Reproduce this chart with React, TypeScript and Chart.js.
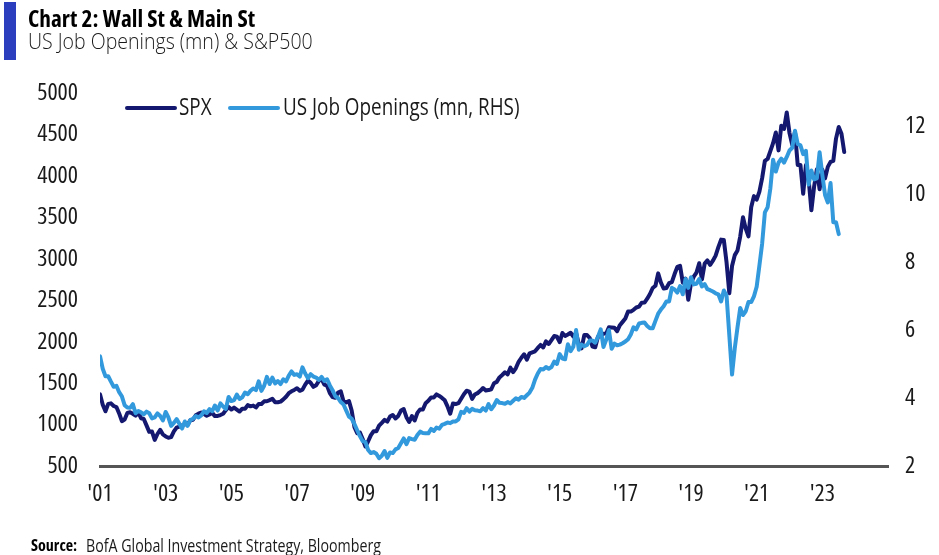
import React, { useEffect, useRef } from "react";
import { Chart, registerables } from "chart.js";

Chart.register(...registerables);

// Monthly data, starting January 2001
const START_YEAR = 2001;

// S&P 500 month-end level (Jan 2001 – Sep 2023)
const SPX: number[] = [
  1366, 1240, 1160, 1249, 1256, 1224, 1211, 1134, 1041, 1060, 1139, 1148,
  1130, 1107, 1147, 1076, 1067, 990, 912, 916, 815, 886, 936, 880,
  856, 841, 848, 917, 964, 975, 990, 1008, 996, 1051, 1058, 1112,
  1131, 1145, 1126, 1107, 1121, 1141, 1102, 1104, 1115, 1130, 1174, 1212,
  1181, 1204, 1181, 1157, 1192, 1191, 1234, 1220, 1229, 1207, 1249, 1248,
  1280, 1281, 1295, 1311, 1270, 1270, 1277, 1304, 1336, 1378, 1401, 1418,
  1438, 1407, 1421, 1482, 1531, 1503, 1455, 1474, 1527, 1549, 1481, 1468,
  1379, 1331, 1323, 1386, 1400, 1280, 1267, 1283, 1166, 969, 896, 903,
  826, 735, 798, 873, 919, 919, 987, 1021, 1057, 1036, 1096, 1115,
  1074, 1104, 1169, 1187, 1089, 1031, 1102, 1049, 1141, 1183, 1181, 1258,
  1286, 1327, 1326, 1364, 1345, 1321, 1292, 1219, 1131, 1253, 1247, 1258,
  1312, 1366, 1408, 1398, 1310, 1362, 1379, 1407, 1441, 1412, 1416, 1426,
  1498, 1515, 1569, 1598, 1631, 1606, 1686, 1633, 1682, 1757, 1806, 1848,
  1783, 1859, 1872, 1884, 1924, 1960, 1931, 2003, 1972, 2018, 2068, 2059,
  1995, 2105, 2068, 2086, 2107, 2063, 2104, 1972, 1920, 2079, 2080, 2044,
  1940, 1932, 2060, 2065, 2097, 2099, 2174, 2171, 2168, 2126, 2199, 2239,
  2279, 2364, 2363, 2384, 2412, 2423, 2470, 2472, 2519, 2575, 2648, 2674,
  2824, 2714, 2641, 2648, 2705, 2718, 2816, 2902, 2914, 2712, 2760, 2507,
  2704, 2784, 2834, 2946, 2752, 2942, 2980, 2926, 2977, 3038, 3141, 3231,
  3226, 2954, 2585, 2912, 3044, 3100, 3271, 3500, 3363, 3270, 3622, 3756,
  3714, 3811, 3973, 4181, 4204, 4298, 4395, 4523, 4308, 4605, 4567, 4766,
  4516, 4374, 4530, 4132, 4132, 3785, 4130, 3955, 3586, 3872, 4080, 3840,
  4077, 3970, 4109, 4169, 4180, 4450, 4589, 4508, 4288,
];

// US job openings, millions (Jan 2001 – Jul 2023)
const JOB_OPENINGS: number[] = [
  5.23, 4.86, 4.64, 4.64, 4.48, 4.33, 4.36, 4.17, 4.05, 3.79, 3.72, 3.71,
  3.82, 3.55, 3.62, 3.58, 3.52, 3.6, 3.55, 3.4, 3.43, 3.55, 3.47, 3.34,
  3.59, 3.43, 3.18, 3.27, 3.38, 3.24, 3.1, 3.31, 3.18, 3.35, 3.39, 3.47,
  3.43, 3.49, 3.61, 3.56, 3.67, 3.61, 3.78, 3.63, 3.84, 3.75, 3.68, 4.03,
  3.91, 3.94, 4.1, 3.97, 4.02, 4.16, 4.11, 4.21, 4.28, 4.23, 4.49, 4.21,
  4.36, 4.62, 4.41, 4.6, 4.43, 4.5, 4.41, 4.55, 4.49, 4.66, 4.78, 4.68,
  4.7, 4.63, 4.9, 4.72, 4.58, 4.7, 4.63, 4.6, 4.53, 4.62, 4.5, 4.55,
  4.37, 4.23, 4.05, 4.0, 3.88, 3.81, 3.63, 3.45, 3.39, 3.23, 3.05, 2.88,
  2.73, 2.7, 2.47, 2.38, 2.41, 2.36, 2.23, 2.3, 2.44, 2.24, 2.4, 2.38,
  2.49, 2.53, 2.67, 2.81, 2.64, 2.82, 2.79, 2.77, 2.91, 3.01, 2.97, 2.96,
  2.96, 3.09, 3.03, 3.13, 3.1, 3.21, 3.24, 3.28, 3.26, 3.31, 3.31, 3.37,
  3.59, 3.56, 3.7, 3.6, 3.68, 3.64, 3.63, 3.61, 3.7, 3.63, 3.82, 3.67,
  3.78, 3.94, 3.86, 3.85, 3.83, 3.88, 3.84, 3.92, 3.99, 3.95, 4.03, 4.0,
  4.08, 4.16, 4.3, 4.54, 4.72, 4.85, 4.84, 4.91, 4.86, 4.91, 5.07, 5.0,
  5.29, 5.16, 5.14, 5.58, 5.38, 5.51, 6.0, 5.42, 5.57, 5.52, 5.56, 5.69,
  5.69, 5.63, 5.8, 6.02, 5.5, 5.71, 6.0, 5.45, 5.6, 5.55, 5.57, 5.61,
  5.66, 5.73, 5.87, 6.08, 6.02, 6.19, 6.21, 6.22, 6.12, 6.05, 6.05, 6.27,
  6.48, 6.6, 6.7, 6.84, 6.84, 7.24, 7.19, 7.1, 7.29, 7.05, 7.5, 7.24,
  7.55, 7.34, 7.36, 7.5, 7.28, 7.35, 7.2, 7.17, 7.13, 7.08, 7.05, 6.84,
  7.16, 7.01, 5.85, 4.69, 5.46, 6.08, 6.65, 6.44, 6.55, 6.82, 6.82, 6.99,
  7.27, 7.9, 8.54, 9.46, 9.61, 10.16, 11.01, 10.66, 10.92, 11.04, 10.92, 11.09,
  11.28, 11.36, 11.86, 11.47, 11.43, 11.17, 11.27, 10.28, 10.69, 10.43, 10.46, 11.23,
  10.56, 9.97, 9.75, 10.32, 9.17, 9.17, 8.82,
];

const X_TICKS: number[] = [2001, 2003, 2005, 2007, 2009, 2011, 2013, 2015, 2017, 2019, 2021, 2023];
const X_LABELS: string[] = ["'01", "'03", "'05", "'07", "'09", "'11", "'13", "'15", "'17", "'19", "'21", "'23"];
const LEFT_TICKS: number[] = [500, 1000, 1500, 2000, 2500, 3000, 3500, 4000, 4500, 5000];
const RIGHT_TICKS: number[] = [2, 4, 6, 8, 10, 12];

const SERIES_NAMES = ["SPX", "US Job Openings (mn, RHS)"];
const NAVY = "#14186e";
const LIGHT = "#3399dd";
const FONT = "'Open Sans', sans-serif";
const TEXT = "#1a1a1a";
const TICK_FONT = { family: FONT, size: 24, weight: "400 condensed" as any };

const toPoints = (vals: number[]) =>
  vals.map((v, i) => ({ x: START_YEAR + i / 12, y: v }));

export default function App() {
  const canvasRef = useRef<HTMLCanvasElement | null>(null);

  useEffect(() => {
    if (!canvasRef.current) return;
    const chart = new Chart(canvasRef.current, {
      type: "line",
      data: {
        datasets: [
          {
            label: SERIES_NAMES[0],
            data: toPoints(SPX),
            yAxisID: "y",
            borderColor: NAVY,
            backgroundColor: NAVY,
            borderWidth: 4,
            pointRadius: 0,
            tension: 0,
            borderJoinStyle: "round",
            borderCapStyle: "round",
            order: 1,
          },
          {
            label: SERIES_NAMES[1],
            data: toPoints(JOB_OPENINGS),
            yAxisID: "y1",
            borderColor: LIGHT,
            backgroundColor: LIGHT,
            borderWidth: 4,
            pointRadius: 0,
            tension: 0,
            borderJoinStyle: "round",
            borderCapStyle: "round",
            order: 0,
          },
        ],
      },
      options: {
        animation: false,
        responsive: false,
        devicePixelRatio: 1,
        layout: { padding: { top: 93, left: 0, right: 0, bottom: 0 } },
        plugins: {
          legend: { display: false },
          tooltip: { enabled: false },
        },
        scales: {
          x: {
            type: "linear",
            min: 2001,
            max: 2025,
            grid: { display: false, drawTicks: false },
            border: { display: true, color: "#555555", width: 3 },
            afterBuildTicks: (scale: any) => {
              scale.ticks = X_TICKS.map((v) => ({ value: v }));
            },
            afterFit: (scale: any) => {
              scale.height = 89;
            },
            ticks: {
              padding: 14,
              autoSkip: false,
              maxRotation: 0,
              color: TEXT,
              font: TICK_FONT,
              callback: (value: any) => {
                const idx = X_TICKS.indexOf(Number(value));
                return idx >= 0 ? X_LABELS[idx] : "";
              },
            },
          },
          y: {
            type: "linear",
            position: "left",
            min: 500,
            max: 5000,
            grid: { display: false, drawTicks: false },
            border: { display: false },
            afterBuildTicks: (scale: any) => {
              scale.ticks = LEFT_TICKS.map((v) => ({ value: v }));
            },
            afterFit: (scale: any) => {
              scale.width = 100;
            },
            ticks: {
              padding: 22,
              color: TEXT,
              font: TICK_FONT,
              callback: (value: any) => String(value),
            },
          },
          y1: {
            type: "linear",
            position: "right",
            min: 2,
            max: 12.97,
            grid: { display: false, drawTicks: false },
            border: { display: false },
            afterBuildTicks: (scale: any) => {
              scale.ticks = RIGHT_TICKS.map((v) => ({ value: v }));
            },
            afterFit: (scale: any) => {
              scale.width = 51;
            },
            ticks: {
              padding: 17,
              color: TEXT,
              font: TICK_FONT,
              callback: (value: any) => String(value),
            },
          },
        },
      },
    });
    return () => chart.destroy();
  }, []);

  const abs = (s: React.CSSProperties, sx = 1): React.CSSProperties => ({
    position: "absolute",
    whiteSpace: "nowrap",
    fontFamily: FONT,
    color: TEXT,
    transform: sx !== 1 ? `scaleX(${sx})` : undefined,
    transformOrigin: "0 0",
    ...s,
  });

  return (
    <div
      style={{
        position: "absolute",
        left: 0,
        top: 0,
        width: 939,
        height: 555,
        background: "#ffffff",
        overflow: "hidden",
      }}
    >
      <canvas
        ref={canvasRef}
        width={939}
        height={555}
        style={{ position: "absolute", left: 0, top: 0, width: 939, height: 555 }}
      />
      <div style={{ position: "absolute", left: 4, top: 2, width: 12, height: 58, background: "#2b3ebe" }} />
      <div style={abs({ left: 28, top: 7, fontSize: 23.4, lineHeight: "23.4px", fontWeight: 700, fontStretch: "75%", color: "#000" })}>
        Chart 2: Wall St &amp; Main St
      </div>
      <div style={abs({ left: 28, top: 30, fontSize: 22.5, lineHeight: "22.5px", fontWeight: 350 }, 0.868)}>
        US Job Openings (mn) &amp; S&amp;P500
      </div>

      {/* Legend */}
      <div style={{ position: "absolute", left: 125, top: 105.5, width: 52, height: 4, background: NAVY, borderRadius: 2 }} />
      <div style={abs({ left: 179, top: 95, fontSize: 23, lineHeight: "23px" }, 0.82)}>{SERIES_NAMES[0]}</div>
      <div style={{ position: "absolute", left: 228, top: 105.5, width: 52, height: 4, background: LIGHT, borderRadius: 2 }} />
      <div style={abs({ left: 283, top: 95, fontSize: 23, lineHeight: "23px" }, 0.82)}>{SERIES_NAMES[1]}</div>

      {/* Source */}
      <div style={abs({ left: 31, top: 537.3, fontSize: 16, lineHeight: "16px", fontWeight: 700, fontStretch: "75%", color: "#000" })}>
        Source:
      </div>
      <div style={abs({ left: 86, top: 535.5, fontSize: 18, lineHeight: "18px" }, 0.79)}>
        BofA Global Investment Strategy, Bloomberg
      </div>
    </div>
  );
}
